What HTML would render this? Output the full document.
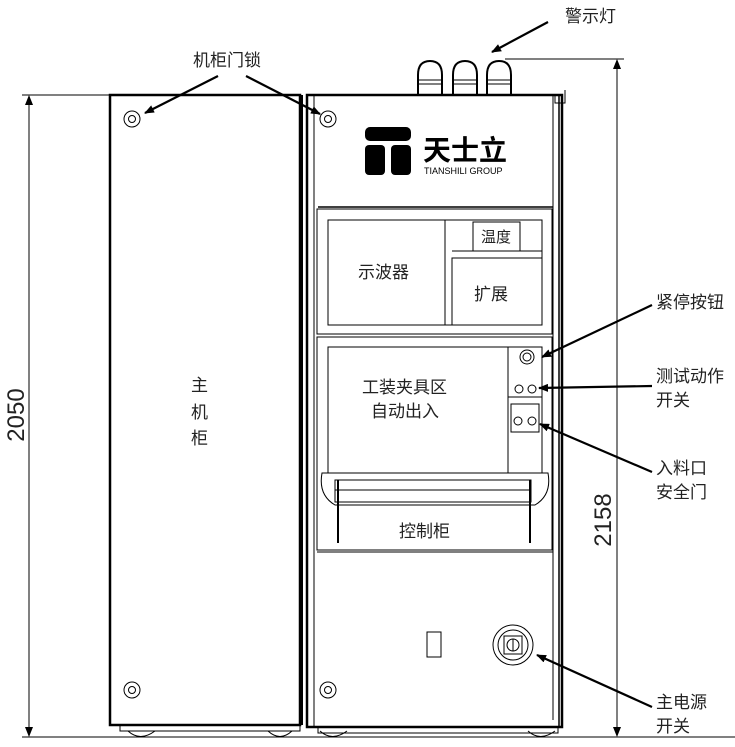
<!DOCTYPE html>
<html><head><meta charset="utf-8"><style>
body{margin:0;background:#fff}
svg{display:block}
text{font-family:"Liberation Sans","Noto Sans CJK SC",sans-serif;fill:#222}
</style></head><body>
<svg width="735" height="747" viewBox="0 0 735 747" xmlns="http://www.w3.org/2000/svg">
<defs><marker id="a" markerWidth="10" markerHeight="8" refX="9" refY="4" orient="auto-start-reverse" markerUnits="userSpaceOnUse"><path d="M0,0 L10,4 L0,8 Z" fill="#000"/></marker></defs>
<g fill="none" stroke="#000">
<line x1="22" y1="95" x2="110" y2="95" stroke-width="1"/>
<line x1="22" y1="737" x2="735" y2="737" stroke-width="1"/>
<line x1="29" y1="96" x2="29" y2="736" stroke-width="1" marker-start="url(#a)" marker-end="url(#a)"/>
<line x1="505" y1="59" x2="624" y2="59" stroke-width="1"/>
<line x1="617" y1="60" x2="617" y2="736" stroke-width="1" marker-start="url(#a)" marker-end="url(#a)"/>
<rect x="110" y="95" width="190" height="630" stroke-width="2.5"/>
<line x1="302" y1="95" x2="302" y2="725" stroke-width="2"/>
<rect x="120" y="725" width="180" height="6" stroke-width="1"/>
<circle cx="132" cy="119" r="8"/><circle cx="132" cy="119" r="3.5"/>
<circle cx="132" cy="690" r="8"/><circle cx="132" cy="690" r="3.5"/>
<rect x="307" y="95" width="255" height="632" stroke-width="2.5"/>
<line x1="559" y1="95" x2="559" y2="727" stroke-width="1.5"/>
<line x1="314" y1="95" x2="314" y2="727"/>
<line x1="553" y1="95" x2="553" y2="720"/>
<path d="M555 95 V103 H565 V90"/>
<circle cx="328" cy="119" r="8"/><circle cx="328" cy="119" r="3.5"/>
<circle cx="328" cy="690" r="8"/><circle cx="328" cy="690" r="3.5"/>
<rect x="318" y="727" width="240" height="6"/>
<line x1="318" y1="207" x2="553" y2="207" stroke-width="1.5"/>
<rect x="317" y="209" width="235" height="125"/>
<rect x="328" y="220" width="214" height="105"/>
<line x1="445" y1="220" x2="445" y2="325"/>
<line x1="452" y1="251" x2="542" y2="251"/>
<rect x="452" y="258" width="90" height="67"/>
<rect x="473" y="222" width="47" height="29"/>
<rect x="317" y="337" width="235" height="213"/>
<rect x="328" y="347" width="214" height="126"/>
<rect x="508" y="347" width="34" height="126"/>
<circle cx="527" cy="357" r="7"/><circle cx="527" cy="357" r="4"/>
<circle cx="519" cy="389" r="4"/><circle cx="532" cy="389" r="4"/>
<line x1="508" y1="397" x2="542" y2="397"/>
<rect x="511" y="404" width="28" height="28"/>
<circle cx="518" cy="421" r="4"/><circle cx="532" cy="421" r="4"/>
<path d="M322 473 Q318 495 335 505 H535 Q552 495 548 473 Z"/>
<rect x="335" y="480" width="196" height="22"/>
<line x1="335" y1="490" x2="531" y2="490"/>
<line x1="338" y1="480" x2="338" y2="543" stroke-width="2"/>
<line x1="530" y1="480" x2="530" y2="543" stroke-width="2"/>
<line x1="317" y1="552" x2="553" y2="552"/>
<rect x="427" y="632" width="14" height="25"/>
<circle cx="513" cy="645" r="20"/><circle cx="513" cy="645" r="15"/>
<rect x="504" y="636" width="18" height="18"/><circle cx="513" cy="645" r="6"/>
<line x1="513" y1="639" x2="513" y2="651"/>
<g stroke-width="2">
<path d="M418 95 V75 Q418 61 430 61 Q442 61 442 75 V95"/>
<path d="M453 95 V75 Q453 61 465 61 Q477 61 477 75 V95"/>
<path d="M487 95 V75 Q487 61 499 61 Q511 61 511 75 V95"/>
</g>
<line x1="418" y1="80" x2="442" y2="80"/><line x1="453" y1="80" x2="477" y2="80"/><line x1="487" y1="80" x2="511" y2="80"/>
<line x1="418" y1="84" x2="442" y2="84"/><line x1="453" y1="84" x2="477" y2="84"/><line x1="487" y1="84" x2="511" y2="84"/>
<g stroke-width="1">
<path d="M128 731 Q140 742 155 731"/><path d="M268 731 Q280 742 292 731"/>
<path d="M320 731 Q332 742 347 731"/><path d="M528 731 Q540 742 555 731"/>
</g>
<g stroke-width="2.2">
<line x1="548" y1="22" x2="492" y2="52" marker-end="url(#a)"/>
<line x1="218" y1="76" x2="145" y2="113" marker-end="url(#a)"/>
<line x1="246" y1="76" x2="320" y2="114" marker-end="url(#a)"/>
<line x1="652" y1="305" x2="542" y2="357" marker-end="url(#a)"/>
<line x1="652" y1="386" x2="539" y2="388" marker-end="url(#a)"/>
<line x1="652" y1="472" x2="540" y2="424" marker-end="url(#a)"/>
<line x1="652" y1="707" x2="537" y2="655" marker-end="url(#a)"/>
</g>
</g>
<rect x="365" y="127" width="46" height="14" rx="5" fill="#000"/>
<rect x="365" y="145" width="20" height="30" rx="4" fill="#000"/>
<rect x="391" y="145" width="20" height="30" rx="4" fill="#000"/>
<text x="423" y="160" font-size="28" font-weight="bold" style="fill:#000">天士立</text>
<text x="424" y="174" font-size="9" style="fill:#000">TIANSHILI GROUP</text>
<g font-size="17">
<text x="565" y="22">警示灯</text>
<text x="193" y="66">机柜门锁</text>
<text x="656" y="308">紧停按钮</text>
<text x="656" y="382">测试动作</text>
<text x="656" y="406">开关</text>
<text x="656" y="474">入料口</text>
<text x="656" y="498">安全门</text>
<text x="656" y="708">主电源</text>
<text x="656" y="732">开关</text>
<text x="191" y="391">主</text>
<text x="191" y="418">机</text>
<text x="191" y="444">柜</text>
<text x="358" y="278">示波器</text>
<text x="474" y="300">扩展</text>
<text x="481" y="242" font-size="15">温度</text>
<text x="362" y="393">工装夹具区</text>
<text x="371" y="417">自动出入</text>
<text x="399" y="537">控制柜</text>
</g>
<text font-size="24" transform="translate(24,415) rotate(-90)" text-anchor="middle">2050</text>
<text font-size="24" transform="translate(611,520) rotate(-90)" text-anchor="middle">2158</text>
</svg>
</body></html>
